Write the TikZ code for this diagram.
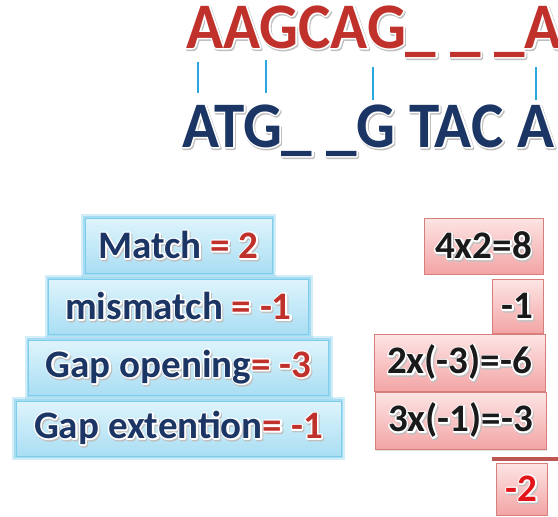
\documentclass[tikz,border=0pt]{standalone}
\usepackage{fontspec}
\setmainfont{Carlito}
\newfontfamily\seqfont{Carlito}[FakeStretch=0.94]
\usepackage{xcolor}
\definecolor{ink}{HTML}{1A1A1A}
\definecolor{seqred}{HTML}{C0312C}
\definecolor{seqnavy}{HTML}{1B3564}
\definecolor{pairblue}{HTML}{2AA7DF}
\definecolor{ruletop}{HTML}{DFF4FC}
\definecolor{rulebot}{HTML}{A9DEF3}
\definecolor{ruleedge}{HTML}{7ECDEC}
\definecolor{ruleglow}{HTML}{6FC8EA}
\definecolor{costtop}{HTML}{FDE4E4}
\definecolor{costbot}{HTML}{F3A4A4}
\definecolor{costedge}{HTML}{D77F7C}
\definecolor{sumred}{HTML}{BD5552}
\definecolor{totalred}{HTML}{E3151A}
\usepackage{tikz}
\usetikzlibrary{positioning, shadows}

% embossed text: grey shadow, white rim, then the letters themselves
\newcommand{\wa}[1]{%
  \makebox[0pt][l]{\kern1pt\raisebox{-1.5pt}{\color{black!25}%
    \special{pdf:literal direct 2 Tr 3 w 1 j}#1\special{pdf:literal direct 0 Tr}}}%
  \makebox[0pt][l]{\color{white}%
    \special{pdf:literal direct 1 Tr 3 w 1 j}#1\special{pdf:literal direct 0 Tr}}%
  #1}

\tikzset{
  box/.style={inner sep=0pt, align=center, font=\fontsize{39}{44}\selectfont\bfseries, minimum height=55pt},
  rule/.style={box, top color=ruletop, bottom color=rulebot, draw=ruleedge, line width=1pt,
    preaction={draw=ruleglow, draw opacity=0.3, line width=8pt},
    preaction={draw=ruleglow, draw opacity=0.45, line width=4pt}},
  cost/.style={box, top color=costtop, bottom color=costbot, draw=costedge, line width=0.8pt, text=ink,
    drop shadow={shadow xshift=0.6pt, shadow yshift=-1.2pt, opacity=0.25}},
  seq/.style={inner sep=0pt, anchor=base west, font=\seqfont\fontsize{65}{70}\selectfont\bfseries},
  pairbar/.style={draw=pairblue, line width=2.6pt},
  sumline/.style={draw=sumred, line width=4.5pt},
}

\begin{document}
\begin{tikzpicture}[x=1pt, y=-1pt, node distance=5pt]
  \path[use as bounding box, fill=white] (0,0) rectangle (558,517);

  % the two aligned sequences
  \node[seq, text=seqred] (upper) at (186,48) {\wa{AAGCAG\_ \_ \_A}};
  \node[seq, text=seqnavy] (lower) at (182,147) {\wa{ATG\_ \_G TAC A}};

  % matched positions
  \draw[pairbar] (198,62) -- (198,93);
  \draw[pairbar] (266,60) -- (266,93);
  \draw[pairbar] (373,67) -- (373,100);
  \draw[pairbar] (536,67) -- (536,100);

  % scoring scheme
  \node[rule, minimum width=187pt] (match) at (178.5,245.5)
    {{\color{seqnavy}\wa{Match}} {\color{seqred}\wa{= 2}}};
  \node[rule, minimum width=260pt, below=of match] (mismatch)
    {{\color{seqnavy}\wa{mismatch}} {\color{seqred}\wa{= -1}}};
  \node[rule, minimum width=300pt, below=of mismatch] (gapopen)
    {{\color{seqnavy}\wa{Gap opening}}{\color{seqred}\wa{= -3}}};
  \node[rule, minimum width=325pt, below=of gapopen] (gapext)
    {{\color{seqnavy}\wa{Gap extention}}{\color{seqred}\wa{= -1}}};

  % score of the alignment
  \node[cost, minimum width=119pt, minimum height=56pt] (mul) at (483.5,246) {\wa{4x2=8}};
  \node[cost, minimum width=51pt, minimum height=54pt, below=of mul.south east, anchor=north east] (mis) {\wa{-1}};
  \node[cost, minimum width=171pt, minimum height=57pt, below=0pt of mis.south east, anchor=north east, xshift=2pt]
    (open) {\wa{2x(-3)=-6}};
  \node[cost, minimum width=171pt, minimum height=57pt, below=0pt of open.south east, anchor=north east, xshift=1pt]
    (ext) {\wa{3x(-1)=-3}};
  \node[cost, minimum width=51pt, minimum height=52pt, below=13pt of ext.south east, anchor=north east, xshift=1pt,
    text=totalred] (total) {\wa{-2}};
  \draw[sumline] ([xshift=-4pt,yshift=4pt]total.north west) -- ++(66,0);
\end{tikzpicture}
\end{document}
